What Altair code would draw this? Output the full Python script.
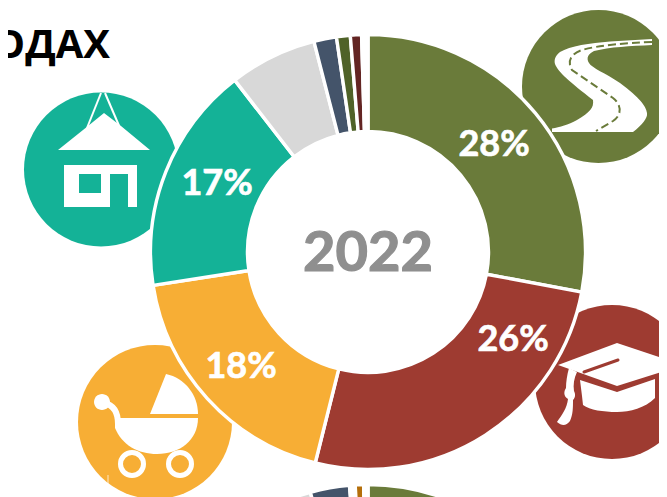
import altair as alt

# main ring, clockwise from 12 o'clock
ring_names = ["Дороги", "Образование", "Дети", "Жильё", "Прочее", "Связь", "Спорт", "Культура", "Зазор"]
ring_values = [27.95, 25.95, 18.65, 16.95, 6.5, 1.68, 1.02, 0.83, 0.47]
# ring cut off by the bottom edge
lower_names = ["Дороги", "Образование", "Дети", "Жильё", "Прочее", "Связь", "Зазор", "Туризм", "Зазор2"]
lower_values = [30, 25, 17, 15, 8.73, 2.91, 0.42, 0.62, 0.32]
palette_names = ["Дороги", "Образование", "Дети", "Жильё", "Прочее", "Связь", "Спорт", "Культура", "Зазор", "Туризм", "Зазор2"]
palette_colors = ["#6A7B3A", "#9E3B31", "#F7AE35", "#14B297", "#D8D8D8", "#44546A", "#4F6228", "#632523", "#FFFFFF", "#B46E0A", "#FFFFFF"]

percent_labels = ["28%", "26%", "18%", "17%"]
center_label = "2022"
heading = "ОДАХ"

OFF = 8
W, H = 651, 489
ONE = [{"k": 1}]


def ring(names, values, cy):
    rows = [{"name": n, "value": v, "i": i} for i, (n, v) in enumerate(zip(names, values))]
    return alt.Chart(alt.Data(values=rows)).mark_arc(
        innerRadius=120.5, outerRadius=217.5, stroke="white", strokeWidth=3.4
    ).encode(
        x=alt.value(368 - OFF),
        y=alt.value(cy - OFF),
        theta=alt.Theta("value:Q", stack=True, scale=alt.Scale(domain=[0, sum(values)], nice=False)),
        color=alt.Color("name:N", scale=alt.Scale(domain=palette_names, range=palette_colors), legend=None),
        order=alt.Order("i:Q"),
    )


def disc(cx, cy, r, color):
    return alt.Chart(alt.Data(values=ONE)).mark_point(
        shape="circle", size=(2 * r) ** 2, filled=True, color=color, opacity=1, strokeWidth=0
    ).encode(x=alt.value(cx - OFF), y=alt.value(cy - OFF))


def fill_path(path, color):
    return alt.Chart(alt.Data(values=ONE)).mark_point(
        shape=path, size=4, filled=True, color=color, opacity=1, strokeWidth=0
    ).encode(x=alt.value(-OFF), y=alt.value(-OFF))


def line_path(path, color, width, dash=None, cap="butt", opacity=1):
    kw = {"strokeDash": dash} if dash else {}
    return alt.Chart(alt.Data(values=ONE)).mark_point(
        shape=path, size=4, filled=False, fill="transparent", stroke=color, strokeWidth=width,
        strokeCap=cap, opacity=opacity, **kw
    ).encode(x=alt.value(-OFF), y=alt.value(-OFF))


def ring_circle(cx, cy, r):
    return f"M{cx - r} {cy} A{r} {r} 0 1 1 {cx + r} {cy} A{r} {r} 0 1 1 {cx - r} {cy} Z"


def text(label, cx, cy, size, color, font="Lato", align="center", thick=0.7):
    return alt.Chart(alt.Data(values=[{"t": label}])).mark_text(
        font=font, fontWeight="bold", fontSize=size, color=color, align=align, baseline="middle",
        stroke=color, strokeWidth=thick
    ).encode(text="t:N", x=alt.value(cx - OFF), y=alt.value(cy - OFF))


OLIVE, RED, ORANGE, TEAL = palette_colors[0], palette_colors[1], palette_colors[2], palette_colors[3]

icons = [
    # house
    disc(101, 169.5, 77, TEAL),
    fill_path("M58 150 L88 126 L104 113 L121 126 L150 150 Z", "white"),
    line_path("M87 128 L101 93", "white", 2),
    line_path("M120 128 L105 93", "white", 2),
    fill_path("M64 165 H137 V207 H128 V174 H110 V207 H64 Z", "white"),
    fill_path("M79 174 H101 V193 H79 Z", TEAL),
    # pram
    disc(155, 422, 77, ORANGE),
    fill_path("M166 374 L150 414 H198 C198 395 185 378 166 374 Z", "white"),
    fill_path("M122 418 H198 C198 440 180 454 157 454 C138 454 122 445 115 428 L115 418 Z", "white"),
    line_path("M104 403 C114 405 118 412 118 424", "white", 6),
    fill_path(ring_circle(102, 402, 8), "white"),
    line_path(ring_circle(132, 464, 11.5), "white", 5),
    line_path(ring_circle(180, 464, 11.5), "white", 5),
    line_path("M108 475 V490 L97 497", "white", 1.2, opacity=0.6),
    # road
    disc(598.5, 86.5, 76.5, OLIVE),
    fill_path(
        "M652 39 L610 41.5 C590 43 570 46 560 52 C555 56 554 60 555 64 C558 72 570 82 593 100 "
        "C594 108 590 112 577 120 C568 125 560 127 552 128.5 V132 H633 C642 125 648 118 647 113 "
        "C646 106 640 98 620 83 C605 73 592 68 589 63 C586 58 588 54 594 51 C610 47 630 46 652 45 Z",
        "white",
    ),
    line_path("M652 42 C625 43 600 45 582 50 C570 54 567 62 572 70 L613 98 C622 105 622 115 613 121 L596 131",
              OLIVE, 2, dash=[8, 4]),
    # cap
    disc(612, 382, 77, RED),
    fill_path("M617 343 L668 360 V370 L617 386 L558 365 Z", "white"),
    line_path("M618 360 L584 372", RED, 3, cap="round"),
    fill_path("M580 380 L617 392 L655 379 V398 C645 408 630 412 617 412 C603 412 590 410 583 405 L582 396 Z", "white"),
    fill_path("M569 368 L577 372 C574 378 573 385 574 391 C576 395 575 398 573 400 C573 408 573 414 570 421 "
              "C566 426 562 426 557 422 C562 415 567 408 568 399 C563 396 564 391 566 388 C566 382 567 375 569 368 Z",
              "white"),
]

rings = (ring(ring_names, ring_values, 252) + ring(lower_names, lower_values, 702)).resolve_scale(theta="independent")

labels = [
    text(percent_labels[0], 494, 145, 36, "white"),
    text(percent_labels[1], 513, 340, 36, "white"),
    text(percent_labels[2], 241, 367, 36, "white"),
    text(percent_labels[3], 217, 184, 36, "white"),
    text(center_label, 368, 254, 56, "#8F8F8F", thick=1.2),
    text(heading, 110, 46, 40, "black", font="Open Sans", align="right", thick=0),
]

chart = alt.layer(*icons, rings, *labels).properties(
    width=W, height=H, padding=0, autosize=alt.AutoSizeParams(type="none")
).configure_view(stroke=None)

chart.save("out.html", embed_options={"renderer": "svg", "actions": False})
